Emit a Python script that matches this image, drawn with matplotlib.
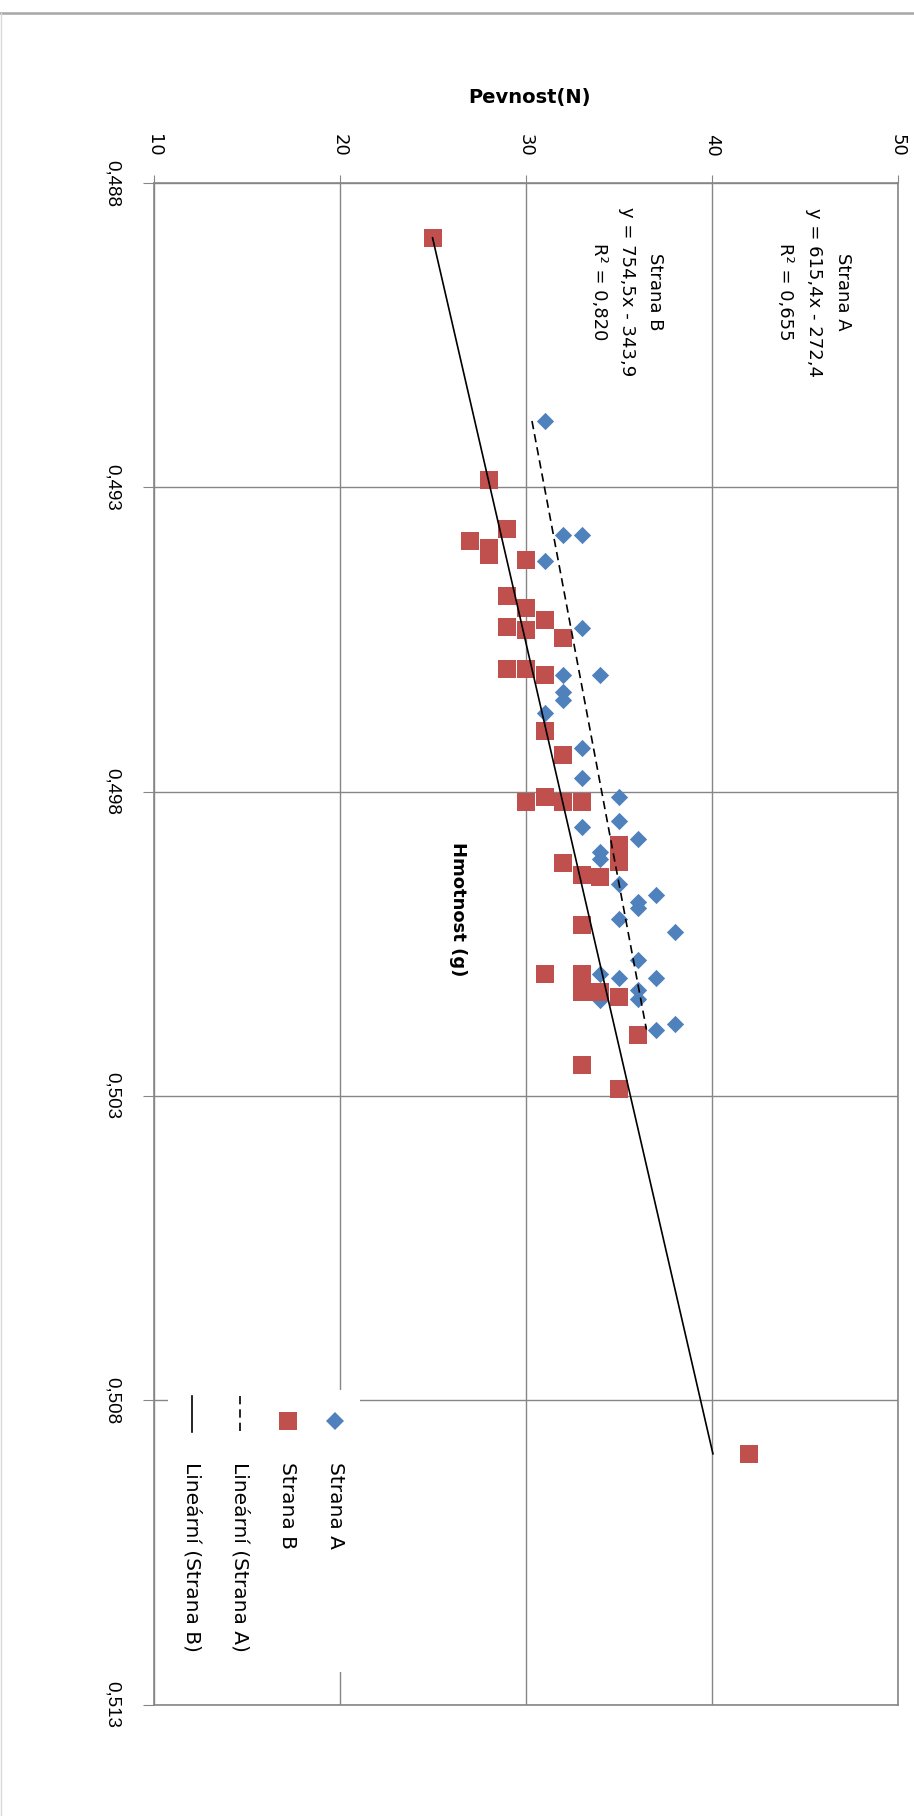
"""
Rotated Excel scatter: Pevnost (N) vs Hmotnost (g) for Strana A / Strana B,
with linear trendlines. Whole chart is turned 90 deg clockwise.
"""
import numpy as np
import matplotlib

matplotlib.use("Agg")
import matplotlib.pyplot as plt
from matplotlib.lines import Line2D
from matplotlib.patches import Rectangle

W, H = 914, 1816

BLUE = "#4F81BD"
RED = "#C0504D"
GRID = "#868686"

# data: (hmotnost g, pevnost N)
strana_a_hmotnost = [0.49191, 0.49378, 0.49378, 0.49421, 0.49531, 0.49608, 0.49608,
                     0.49636, 0.49650, 0.49670, 0.49729, 0.49778, 0.49808, 0.49849,
                     0.49858, 0.49878, 0.49899, 0.49910, 0.49952, 0.49970, 0.49981,
                     0.49992, 0.50010, 0.50030, 0.50077, 0.50099, 0.50107, 0.50107,
                     0.50126, 0.50142, 0.50140, 0.50191, 0.50182]
strana_a_pevnost = [31, 32, 33, 31, 33, 32, 34,
                    32, 32, 31, 33, 33, 35, 35,
                    33, 36, 34, 34, 35, 37, 36,
                    36, 35, 38, 36, 34, 35, 37,
                    36, 34, 36, 37, 38]

strana_b_hmotnost = [0.48890, 0.49288, 0.49369, 0.49389, 0.49400, 0.49411, 0.49419,
                     0.49479, 0.49499, 0.49518, 0.49529, 0.49534, 0.49548, 0.49599,
                     0.49599, 0.49608, 0.49700, 0.49740, 0.49808, 0.49817, 0.49817,
                     0.49817, 0.49888, 0.49915, 0.49918, 0.49937, 0.49940, 0.50019,
                     0.50100, 0.50099, 0.50129, 0.50129, 0.50138, 0.50200, 0.50249,
                     0.50288, 0.50888]
strana_b_pevnost = [25, 28, 29, 27, 28, 28, 30,
                    29, 30, 31, 29, 30, 32, 29,
                    30, 31, 31, 32, 31, 30, 32,
                    33, 35, 35, 32, 33, 34, 33,
                    31, 33, 33, 34, 35, 36, 33,
                    35, 42]

# trendline coefficients (slope, intercept) and R^2 as printed on the chart
trend_a = (615.4, -272.4, 0.655)
trend_b = (754.5, -343.9, 0.820)

pevnost_ticks = [10, 20, 30, 40, 50]
hmotnost_ticks = [0.488, 0.493, 0.498, 0.503, 0.508, 0.513]


def fx(px):
    return px / W


def fy(py):
    return 1 - py / H


def cz(v, nd):
    return f"{v:.{nd}f}".replace(".", ",")


fig = plt.figure(figsize=(W / 100, H / 100), dpi=100)
ax = fig.add_axes([fx(154), fy(1704.6), (898 - 154) / W, (1704.6 - 183) / H])

ax.scatter(strana_a_pevnost, strana_a_hmotnost, marker="D", s=8.8 ** 2,
           color=BLUE, linewidths=0, zorder=3)
ax.scatter(strana_b_pevnost, strana_b_hmotnost, marker="s", s=13.5 ** 2,
           color=RED, linewidths=0, zorder=4)

for (k, q, _), hm, ls in [(trend_a, strana_a_hmotnost, (0, (5, 3))),
                          (trend_b, strana_b_hmotnost, "-")]:
    xs = np.array([min(hm), max(hm)])
    ax.plot(k * xs + q, xs, color="black", lw=1.2, ls=ls, zorder=5)

ax.set_xlim(10, 50)
ax.set_ylim(0.513, 0.488)
ax.xaxis.tick_top()
ax.set_xticks(pevnost_ticks)
ax.set_xticklabels([str(t) for t in pevnost_ticks], fontsize=13)
ax.set_yticks(hmotnost_ticks)
ax.set_yticklabels([cz(t, 3) for t in hmotnost_ticks], fontsize=13.5, va="center",
                   family="Liberation Sans")
ax.grid(True, color=GRID, lw=1.0, zorder=0)
ax.set_axisbelow(True)
for s in ax.spines.values():
    s.set_color(GRID)
    s.set_linewidth(1.2)
ax.tick_params(axis="x", top=True, bottom=False, direction="out", length=6,
               color=GRID, labelrotation=-90, pad=13)
ax.tick_params(axis="y", left=True, direction="out", length=8,
               color=GRID, labelrotation=-90, pad=16)

# axis titles
fig.text(fx(530), fy(97), "Pevnost(N)", fontsize=14, fontweight="bold",
         ha="center", va="center")
fig.text(fx(458), fy(909), "Hmotnost (g)", fontsize=13, fontweight="bold",
         rotation=-90, ha="center", va="center")

# trendline equations
fig.text(fx(814), fy(292),
         f"Strana A\ny = {cz(trend_a[0], 1)}x - {cz(-trend_a[1], 1)}\nR² = {cz(trend_a[2], 3)}",
         rotation=-90, ha="center", va="center", multialignment="center",
         fontsize=13, linespacing=1.75)
fig.text(fx(627), fy(292),
         f"Strana B\ny = {cz(trend_b[0], 1)}x - {cz(-trend_b[1], 1)}\nR² = {cz(trend_b[2], 3)}",
         rotation=-90, ha="center", va="center", multialignment="center",
         fontsize=13, linespacing=1.75)

# legend drawn by hand (rotated)
fig.add_artist(Rectangle((fx(168), fy(1672)), (360 - 168) / W, (1672 - 1390) / H,
                         transform=fig.transFigure, facecolor="white",
                         edgecolor="none", zorder=1))
fig.add_artist(Line2D([fx(335)], [fy(1421)], marker="D", markersize=8.8,
                      color=BLUE, mew=0, transform=fig.transFigure, zorder=2))
fig.add_artist(Line2D([fx(287.5)], [fy(1421)], marker="s", markersize=13.5,
                      color=RED, mew=0, transform=fig.transFigure, zorder=2))
fig.add_artist(Line2D([fx(240)] * 2, [fy(1396), fy(1432)], ls=(0, (5, 3)),
                      color="black", lw=1.2, transform=fig.transFigure, zorder=2))
fig.add_artist(Line2D([fx(192)] * 2, [fy(1396), fy(1432)], ls="-",
                      color="black", lw=1.2, transform=fig.transFigure, zorder=2))
for xp, lab in [(336, "Strana A"), (288, "Strana B"),
                (240, "Lineární (Strana A)"), (192, "Lineární (Strana B)")]:
    fig.text(fx(xp), fy(1462), lab, rotation=-90, ha="center", va="top",
             fontsize=14.5, zorder=3)

# chart-area frame
fig.add_artist(Line2D([0, 1], [fy(13)] * 2, color="#a6a6a6", lw=1.8,
                      transform=fig.transFigure))
fig.add_artist(Line2D([fx(0.5)] * 2, [fy(13), 0], color="#d9d9d9", lw=1,
                      transform=fig.transFigure))

fig.savefig("out.png", dpi=100)
